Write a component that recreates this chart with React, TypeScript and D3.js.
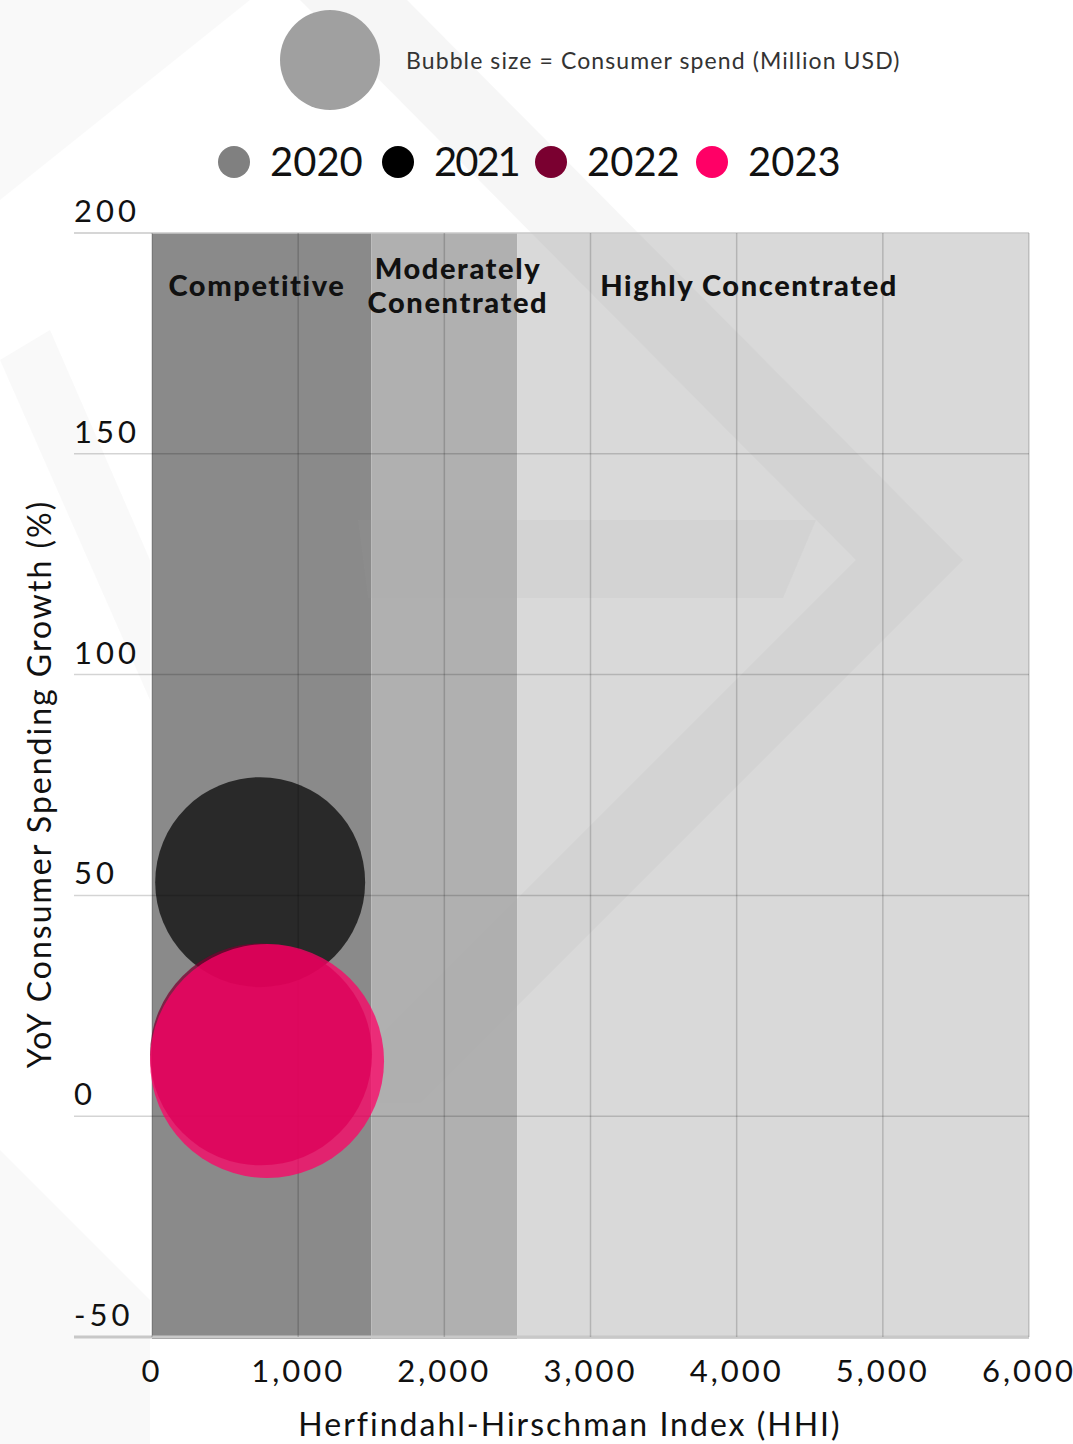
import React from 'react';
import * as d3 from 'd3';

// ---------- data ----------
const legendYears = ['2020', '2021', '2022', '2023'];
const legendColors = ['#808080', '#000000', '#7a0030', '#ff0066'];

const bubbleYears = ['2021', '2022', '2023'];
const bubbleHHI = [740, 746, 787];
const bubbleGrowth = [53, 14, 12.5];
const bubbleSpend = [805, 900, 1000];
const bubbleColors = ['#000000', '#7a0030', '#ff0066'];
const bubbleOpacity = [0.7, 0.75, 0.75];

const xTicks = [0, 1000, 2000, 3000, 4000, 5000, 6000];
const yTicks = [-50, 0, 50, 100, 150, 200];

const zoneStart = [0, 1500, 2500];
const zoneEnd = [1500, 2500, 6000];
const zoneColors = ['#8a8a8a', '#b0b0b0', '#d9d9d9'];
const zoneLabelLines = [['Competitive'], ['Moderately', 'Conentrated'], ['Highly Concentrated']];
const zoneLabelX = [718, 2093, 4085];
const zoneLabelY = 188;

const xTitle = 'Herfindahl-Hirschman Index (HHI)';
const yTitle = 'YoY Consumer Spending Growth (%)';
const sizeLegendText = 'Bubble size = Consumer spend (Million USD)';

// decorative watermark (pixel polygons)
const watermark: [number, number][][] = [
  [[300, 0], [407, 0], [963, 560], [856, 560]],
  [[856, 560], [963, 560], [420, 1103], [313, 1103]],
  [[358, 520], [816, 520], [783, 598], [368, 598]],
];
const watermarkLight: [number, number][][] = [
  [[0, 0], [250, 0], [0, 200]],
  [[0, 360], [50, 330], [150, 560], [150, 700]],
  [[0, 1150], [150, 1300], [150, 1444], [0, 1444]],
];

const W = 1073;
const H = 1444;
const FONT = 'Lato, "Open Sans", sans-serif';

export default function App() {
  const x = d3.scaleLinear().domain([0, 6000]).range([152, 1029]);
  const y = d3.scaleLinear().domain([-50, 200]).range([1337, 233]);
  const r = d3.scaleSqrt().domain([0, 1000]).range([0, 117]);
  const fmt = d3.format(',');

  const gridColor = 'rgba(0,0,0,0.17)';
  const legendX = [234, 398, 551, 712];

  return (
    <svg width={W} height={H} style={{ position: 'absolute', left: 0, top: 0, background: '#fff' }}>
      {/* light watermark on white */}
      {watermarkLight.map((p, i) => (
        <polygon key={'wl' + i} points={p.map((q) => q.join(',')).join(' ')} fill="#9a9a9a" fillOpacity={0.06} />
      ))}
      {/* zones */}
      {zoneStart.map((s, i) => (
        <rect key={'z' + i} x={x(s)} y={y(200)} width={x(zoneEnd[i]) - x(s)} height={y(-50) - y(200) + 2} fill={zoneColors[i]} />
      ))}
      {/* watermark */}
      {watermark.map((p, i) => (
        <polygon key={'w' + i} points={p.map((q) => q.join(',')).join(' ')} fill="#a8a8a8" fillOpacity={0.1} />
      ))}
      {/* horizontal grid */}
      {yTicks.map((t) => (
        <line key={'gy' + t} x1={74} x2={x(6000)} y1={y(t)} y2={y(t)} stroke={t === -50 || t === 200 ? '#c8c8c8' : gridColor} strokeWidth={t === -50 ? 3 : 1.5} />
      ))}
      {/* vertical grid */}
      {xTicks.map((t) => (
        <line key={'gx' + t} x1={x(t)} x2={x(t)} y1={y(200)} y2={y(-50)} stroke={gridColor} strokeWidth={1.5} />
      ))}
      {/* zone labels */}
      {zoneLabelLines.map((lines, i) => (
        <text key={'zl' + i} x={x(zoneLabelX[i])} y={y(zoneLabelY)} textAnchor="middle" fontFamily={FONT} fontWeight={900} fontSize={29} letterSpacing={1.6} fill="#111">
          {lines.map((ln, j) => (
            <tspan key={j} x={x(zoneLabelX[i])} dy={j === 0 ? (lines.length === 1 ? 10 : -7) : 34}>{ln}</tspan>
          ))}
        </text>
      ))}
      {/* bubbles */}
      {bubbleYears.map((yr, i) => (
        <circle key={'b' + yr} cx={x(bubbleHHI[i])} cy={y(bubbleGrowth[i])} r={r(bubbleSpend[i])} fill={bubbleColors[i]} fillOpacity={bubbleOpacity[i]} />
      ))}
      {/* y tick labels */}
      {yTicks.map((t) => (
        <text key={'ty' + t} x={74} y={y(t) - 11} fontFamily={FONT} fontSize={31} letterSpacing={4} fill="#111">{t}</text>
      ))}
      {/* x tick labels */}
      {xTicks.map((t) => (
        <text key={'tx' + t} x={x(t)} y={1382} textAnchor="middle" fontFamily={FONT} fontSize={31} letterSpacing={3} fill="#111">{fmt(t)}</text>
      ))}
      {/* axis titles */}
      <text x={570} y={1436} textAnchor="middle" fontFamily={FONT} fontSize={32} letterSpacing={2} fill="#111">{xTitle}</text>
      <text transform={`translate(51,${784}) rotate(-90)`} textAnchor="middle" fontFamily={FONT} fontSize={32} letterSpacing={2} fill="#111">{yTitle}</text>
      {/* size legend */}
      <circle cx={330} cy={60} r={50} fill="#a0a0a0" />
      <text x={406} y={69} fontFamily={FONT} fontSize={23} letterSpacing={1.1} fill="#333">{sizeLegendText}</text>
      {/* year legend */}
      {legendYears.map((yr, i) => (
        <g key={'l' + yr}>
          <circle cx={legendX[i]} cy={162} r={16} fill={legendColors[i]} />
          <text x={legendX[i] + 36} y={176} fontFamily={FONT} fontSize={40} letterSpacing={i === 1 ? -2 : 0} fill="#111">{yr}</text>
        </g>
      ))}
    </svg>
  );
}
